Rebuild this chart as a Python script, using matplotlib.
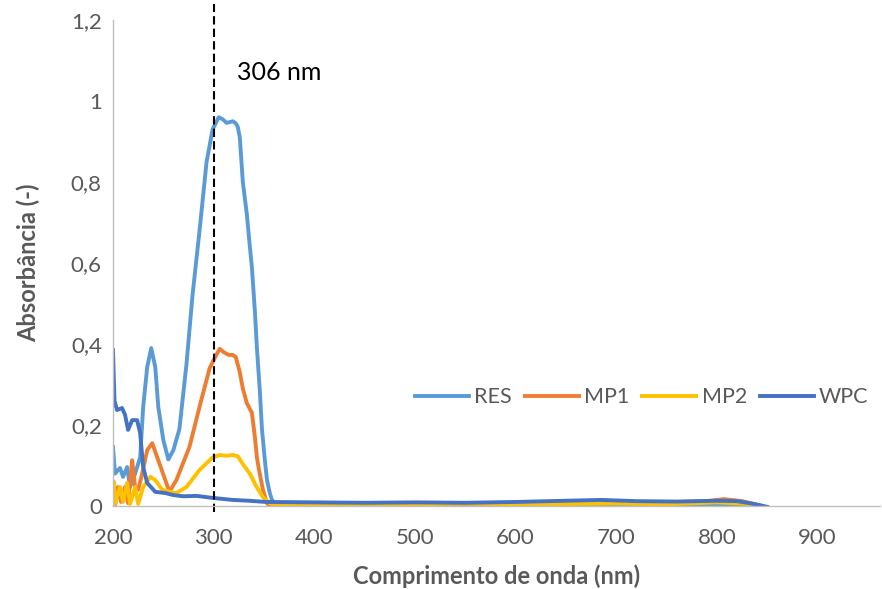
import numpy as np
import matplotlib.pyplot as plt

# UV-Vis spectra (wavelength nm, absorbance)
res_x = [200, 202, 207, 210, 214, 217, 222, 227, 230, 234, 238, 242, 245, 250, 255, 260, 266,
         273, 279, 286, 293, 299, 305, 309, 313, 316, 319, 322, 324, 326, 329, 333, 336, 338, 341,
         343, 346, 348, 351, 353, 356, 358, 362, 370,
         400, 450, 500, 550, 600, 650, 700, 750, 800, 830, 848]
res_y = [0.146, 0.08, 0.094, 0.072, 0.096, 0.047, 0.08, 0.12, 0.245, 0.343, 0.39, 0.343, 0.245, 0.163, 0.115, 0.138, 0.19,
         0.35, 0.52, 0.68, 0.85, 0.93, 0.96, 0.955, 0.946, 0.948, 0.95, 0.945, 0.936, 0.91, 0.80, 0.72, 0.64, 0.59, 0.48,
         0.39, 0.28, 0.19, 0.11, 0.064, 0.03, 0.015, 0.004, 0.001,
         0.0, 0.001, 0.0, 0.001, 0.0, 0.002, 0.001, 0.0, 0.002, 0.0, -0.003]

mp1_x = [200, 202, 205, 208, 212, 215, 219, 222, 225, 229, 234, 239, 245, 252, 256, 263, 276, 286, 296, 302, 306,
         310, 315, 319, 322, 326, 329, 333, 338, 341, 343, 345, 349, 353, 357,
         400, 450, 500, 550, 600, 650, 700, 750, 790, 807, 825, 845]
mp1_y = [0.007, 0.0, 0.047, 0.01, 0.047, 0.007, 0.113, 0.047, 0.04, 0.08, 0.138, 0.155, 0.113, 0.064, 0.035, 0.064, 0.146, 0.245, 0.34, 0.37, 0.388,
         0.38, 0.373, 0.373, 0.368, 0.33, 0.29, 0.254, 0.23, 0.17, 0.12, 0.09, 0.04, 0.007, -0.004,
         0.002, 0.003, 0.002, 0.004, 0.008, 0.01, 0.01, 0.009, 0.012, 0.017, 0.012, 0.0]

mp2_x = [200, 201, 202, 207, 210, 214, 217, 222, 225, 230, 237, 242, 249, 257, 263, 273, 286, 299, 306,
         313, 319, 324, 330, 336, 342, 349, 355, 360,
         400, 450, 500, 550, 600, 650, 700, 750, 800, 830, 845]
mp2_y = [0.047, 0.06, 0.005, 0.047, 0.01, 0.057, 0.005, 0.047, 0.005, 0.047, 0.072, 0.064, 0.04, 0.035, 0.032, 0.047, 0.089, 0.12, 0.126,
         0.124, 0.126, 0.123, 0.1, 0.08, 0.05, 0.022, 0.008, 0.003,
         0.004, 0.005, 0.004, 0.006, 0.004, 0.005, 0.006, 0.004, 0.009, 0.005, 0.0]

wpc_x = [200, 201.5, 204, 209, 212, 215, 219, 224, 227, 230, 234, 242, 252, 260, 270, 283, 299, 319, 335, 352,
         400, 450, 500, 550, 600, 650, 685, 720, 760, 800, 820, 835, 850]
wpc_y = [0.385, 0.26, 0.237, 0.242, 0.225, 0.188, 0.212, 0.212, 0.18, 0.096, 0.057, 0.035, 0.032, 0.027, 0.024, 0.025, 0.02, 0.015, 0.013, 0.01,
         0.009, 0.008, 0.009, 0.008, 0.01, 0.013, 0.015, 0.012, 0.011, 0.013, 0.012, 0.006, -0.002]

grey = '#595959'
plt.rcParams['font.family'] = ['Lato', 'DejaVu Sans']

fig = plt.figure(figsize=(8.82, 5.89), dpi=100)
ax = fig.add_axes([0.1281, 0.1409, 0.8696, 0.8251])

ax.plot(res_x, res_y, color='#5B9BD5', lw=2.8, label='RES', solid_joinstyle='round')
ax.plot(mp1_x, mp1_y, color='#ED7D31', lw=2.8, label='MP1', solid_joinstyle='round')
ax.plot(mp2_x, mp2_y, color='#FFC000', lw=2.8, label='MP2', solid_joinstyle='round')
ax.plot(wpc_x, wpc_y, color='#4472C4', lw=2.8, label='WPC', solid_joinstyle='round')

# marker line at the peak
ax.plot([300, 300], [-0.015, 1.24], color='black', lw=1.5, ls=(0, (4, 2)), clip_on=False)
ax.text(323, 1.07, '306 nm', fontsize=18, color='black', va='center')

ax.set_xlim(200, 962)
ax.set_ylim(0, 1.2)
ax.set_xticks(range(200, 1000, 100))
ax.set_yticks([0, 0.2, 0.4, 0.6, 0.8, 1.0, 1.2])
ax.set_yticklabels(['0', '0,2', '0,4', '0,6', '0,8', '1', '1,2'])
ax.tick_params(length=0, labelsize=16, labelcolor=grey)
ax.tick_params(axis='y', pad=8)
ax.tick_params(axis='x', pad=16)

for s in ['top', 'right']:
    ax.spines[s].set_visible(False)
for s in ['left', 'bottom']:
    ax.spines[s].set_color('#BFBFBF')
    ax.spines[s].set_linewidth(1)

ax.set_xlabel('Comprimento de onda (nm)', fontsize=17, fontweight='bold', color=grey, labelpad=12)
ax.set_ylabel('Absorbância (-)', fontsize=17, fontweight='bold', color=grey, labelpad=22)

leg = ax.legend(loc='center right', bbox_to_anchor=(0.985, 0.224), ncol=4, frameon=False,
                fontsize=15.5, handlelength=2.5, columnspacing=0.6, handletextpad=0.25,
                borderpad=0, borderaxespad=0)
for t in leg.get_texts():
    t.set_color(grey)

plt.savefig('out.png', dpi=100)
plt.close()
